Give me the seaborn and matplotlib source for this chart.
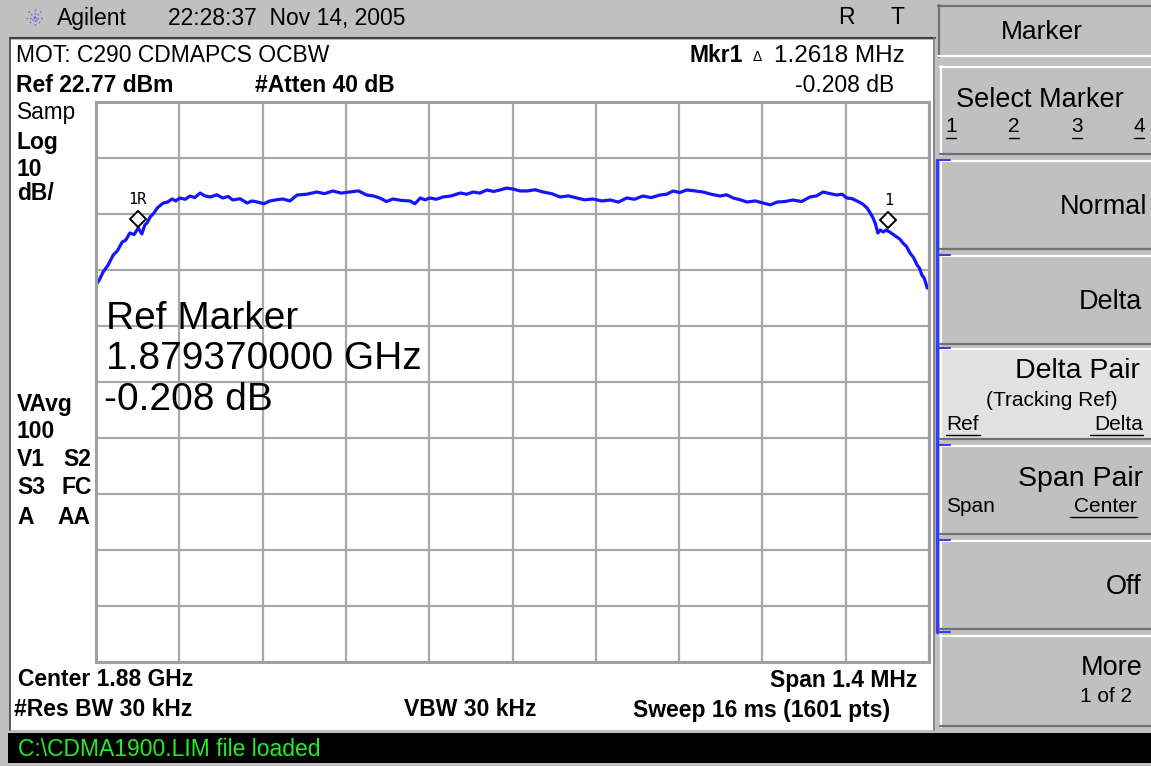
import numpy as np
import pandas as pd
import seaborn as sns
import matplotlib.pyplot as plt
from matplotlib.patches import Rectangle

# trace: offset from center (MHz) and level (dBm)
freq_mhz = [-0.700, -0.694, -0.688, -0.680, -0.671, -0.664, -0.656, -0.650, -0.643, -0.636,
            -0.629, -0.623, -0.618, -0.614, -0.609, -0.603, -0.597, -0.592, -0.587, -0.580,
            -0.572, -0.566, -0.559, -0.550, -0.542, -0.534, -0.525, -0.517, -0.508, -0.497,
            -0.487, -0.478, -0.470, -0.458, -0.446, -0.438, -0.429, -0.418, -0.408, -0.397,
            -0.386, -0.374, -0.362, -0.346, -0.329, -0.316, -0.302, -0.288, -0.273, -0.259,
            -0.245, -0.234, -0.223, -0.212, -0.201, -0.187, -0.172, -0.164, -0.155, -0.147,
            -0.139, -0.128, -0.117, -0.103, -0.088, -0.077, -0.066, -0.055, -0.043, -0.032,
            -0.021, -0.010, 0.001, 0.012, 0.024, 0.038, 0.051, 0.066, 0.080, 0.094,
            0.108, 0.121, 0.135, 0.150, 0.164, 0.178, 0.192, 0.205, 0.219, 0.233,
            0.248, 0.259, 0.270, 0.281, 0.293, 0.306, 0.320, 0.334, 0.349, 0.360,
            0.371, 0.383, 0.394, 0.408, 0.421, 0.433, 0.445, 0.458, 0.471, 0.486,
            0.500, 0.511, 0.522, 0.534, 0.545, 0.554, 0.562, 0.571, 0.579, 0.588,
            0.596, 0.601, 0.606, 0.610, 0.614, 0.618, 0.623, 0.628, 0.634, 0.640,
            0.646, 0.651, 0.656, 0.662, 0.668, 0.674, 0.680, 0.684, 0.688, 0.692,
            0.697]
level_dbm = [-9.91, -8.90, -7.59, -6.40, -4.55, -3.80, -2.23, -1.90, -0.62, -0.90,
             0.27, -0.80, 0.81, 1.20, 2.23, 2.90, 3.84, 4.30, 4.73, 4.90,
             5.45, 5.10, 5.63, 5.40, 5.98, 5.70, 6.52, 6.00, 5.81, 6.20,
             5.63, 5.90, 5.27, 5.50, 4.73, 5.10, 4.91, 4.60, 5.09, 5.30,
             5.45, 5.10, 6.16, 6.30, 6.70, 6.40, 6.88, 6.50, 6.70, 6.90,
             6.16, 6.00, 5.63, 5.00, 5.45, 5.20, 5.09, 4.60, 5.63, 5.30,
             5.63, 5.40, 5.81, 6.00, 6.52, 6.30, 6.70, 6.50, 7.06, 6.80,
             7.06, 7.40, 7.23, 6.90, 6.88, 7.10, 6.70, 6.40, 5.81, 6.00,
             5.63, 5.30, 5.45, 5.10, 5.27, 4.90, 5.63, 5.40, 5.98, 5.70,
             6.16, 6.30, 6.88, 6.60, 7.06, 6.90, 6.70, 6.30, 5.98, 6.20,
             5.63, 5.30, 4.91, 5.10, 4.73, 4.40, 4.91, 5.00, 5.27, 5.00,
             5.81, 6.00, 6.70, 6.40, 6.16, 6.30, 5.63, 5.50, 5.09, 4.60,
             3.84, 3.00, 2.06, 1.00, -0.62, -0.10, -0.44, -0.10, -0.44, -0.90,
             -1.34, -1.70, -2.41, -3.00, -4.20, -5.00, -6.34, -6.90, -8.13, -8.70,
             -10.45]

marker_names = ['1R', '1']
marker_freq = [-0.63, 0.6318]
marker_level = [1.87, 1.66]

ref_level = 22.77
db_per_div = 10
span_mhz = 1.4

GREY = '#c0c0c0'


def put(ax, x, y, s, size=16.5, weight='bold', ha='left', color='black', **kw):
    ax.text(x, y, s, fontsize=size, fontweight=weight, ha=ha, va='center',
            family=['Liberation Sans'], color=color, **kw)


def button(ax, y0, y1, face=GREY):
    ax.add_patch(Rectangle((940, y0), 211, y1 - y0, facecolor=face, edgecolor='none'))
    ax.plot([940, 1151], [y0 + 1, y0 + 1], color='white', lw=1.6)
    ax.plot([941, 941], [y0, y1], color='white', lw=1.6)
    ax.plot([940, 1151], [y1 - 1, y1 - 1], color='#707070', lw=1.6)


def draw_frame(ax):
    ax.set_xlim(0, 1151)
    ax.set_ylim(766, 0)
    ax.axis('off')
    # outer grey background
    ax.add_patch(Rectangle((0, 0), 1151, 766, facecolor=GREY, edgecolor='none'))
    # main white screen
    ax.add_patch(Rectangle((10, 40), 923, 690, facecolor='white', edgecolor='none'))
    ax.plot([10, 935], [38, 38], color='#404040', lw=1.5)
    ax.plot([10, 10], [38, 730], color='#404040', lw=1.2)
    ax.plot([934, 934], [38, 730], color='#808080', lw=1.2)
    # status bar
    ax.add_patch(Rectangle((8, 733), 1143, 30, facecolor='black', edgecolor='none'))

    # header
    for a in np.linspace(0, np.pi, 5)[:-1]:
        dx, dy = 9 * np.cos(a), 9 * np.sin(a)
        ax.plot([35 - dx, 35 + dx], [18 - dy, 18 + dy], color='#5a5aff', lw=1, ls=':')
    put(ax, 57, 18, 'Agilent', size=16.5, weight='normal')
    put(ax, 168, 18, '22:28:37  Nov 14, 2005', size=16.5, weight='normal')
    put(ax, 846, 18, 'R', size=16.5, weight='normal', ha='center')
    put(ax, 897, 18, 'T', size=16.5, weight='normal', ha='center')

    # top info lines
    put(ax, 16, 56, 'MOT: C290 CDMAPCS OCBW', size=16.5, weight='normal')
    put(ax, 690, 56, 'Mkr1', size=16.5)
    put(ax, 757, 57, '\u0394', size=10, weight='normal', ha='center')
    put(ax, 905, 56, '1.2618 MHz', size=17.5, weight='normal', ha='right')
    put(ax, 16, 86, 'Ref 22.77 dBm')
    put(ax, 255, 86, '#Atten 40 dB')
    put(ax, 894, 86, '-0.208 dB', size=16.5, weight='normal', ha='right')

    # left side status column
    put(ax, 17, 113, 'Samp', size=16.3, weight='normal')
    put(ax, 17, 142, 'Log')
    put(ax, 17, 170, '10')
    put(ax, 17, 194, 'dB/')
    put(ax, 17, 405, 'VAvg')
    put(ax, 17, 432, '100')
    put(ax, 17, 460, 'V1')
    put(ax, 63, 460, 'S2')
    put(ax, 17, 488, 'S3')
    put(ax, 62, 488, 'FC')
    put(ax, 17, 517, 'A')
    put(ax, 57, 517, 'AA')

    # bottom lines
    put(ax, 18, 680, 'Center 1.88 GHz')
    put(ax, 917, 680, 'Span 1.4 MHz', ha='right')
    put(ax, 14, 710, '#Res BW 30 kHz')
    put(ax, 470, 710, 'VBW 30 kHz', ha='center')
    put(ax, 890, 710, 'Sweep 16 ms (1601 pts)', ha='right')
    put(ax, 18, 749, 'C:\\CDMA1900.LIM file loaded', size=16.5, weight='normal',
        color='#22ee22')

    # softkey panel
    ax.add_patch(Rectangle((938, 5), 213, 52, facecolor=GREY, edgecolor='none'))
    ax.plot([938, 1151], [6, 6], color='#707070', lw=1.6)
    ax.plot([939, 939], [5, 57], color='#707070', lw=1.6)
    ax.plot([938, 1151], [56, 56], color='white', lw=1.6)
    put(ax, 1042, 32, 'Marker', size=19, weight='normal', ha='center')

    button(ax, 66, 155)
    put(ax, 1040, 100, 'Select Marker', size=19.5, weight='normal', ha='center')
    for x, s in zip([951, 1014, 1077, 1139], ['1', '2', '3', '4']):
        put(ax, x, 127, s, size=15, weight='normal', ha='center')
        ax.plot([x - 5, x + 5], [138, 138], color='black', lw=1)

    button(ax, 160, 250)
    put(ax, 1147, 207, 'Normal', size=19.5, weight='normal', ha='right')
    button(ax, 255, 345)
    put(ax, 1142, 302, 'Delta', size=19.5, weight='normal', ha='right')

    button(ax, 348, 440, face='#e2e2e2')
    put(ax, 1140, 371, 'Delta Pair', size=20.5, weight='normal', ha='right')
    put(ax, 1052, 400, '(Tracking Ref)', size=15, weight='normal', ha='center')
    put(ax, 946, 425, 'Ref', size=15, weight='normal')
    ax.plot([946, 980], [435, 435], color='black', lw=1)
    put(ax, 1143, 425, 'Delta', size=15, weight='normal', ha='right')
    ax.plot([1090, 1143], [435, 435], color='black', lw=1)

    button(ax, 445, 535)
    put(ax, 1143, 479, 'Span Pair', size=20.5, weight='normal', ha='right')
    put(ax, 946, 507, 'Span', size=15, weight='normal')
    put(ax, 1137, 507, 'Center', size=15, weight='normal', ha='right')
    ax.plot([1070, 1137], [517, 517], color='black', lw=1)

    button(ax, 540, 630)
    put(ax, 1142, 587, 'Off', size=19.5, weight='normal', ha='right')
    button(ax, 635, 727)
    put(ax, 1143, 668, 'More', size=19.5, weight='normal', ha='right')
    put(ax, 1132, 696, '1 of 2', size=15, weight='normal', ha='right')

    # blue active-menu bar
    ax.plot([937, 937], [160, 632], color='#3a3aff', lw=2.5)
    for y in [160, 255, 348, 445, 540, 632]:
        ax.plot([937, 950], [y, y], color='#3a3aff', lw=1.5)


def plot_trace(ax):
    data = pd.DataFrame({'freq': freq_mhz, 'level': level_dbm})
    sns.lineplot(x='freq', y='level', data=data, ax=ax, color='#1414ff', lw=2.3)

    ax.set_xlim(-span_mhz / 2, span_mhz / 2)
    ax.set_ylim(ref_level - 10 * db_per_div, ref_level)
    ax.set_xticks(np.linspace(-span_mhz / 2, span_mhz / 2, 11))
    ax.set_yticks(ref_level - db_per_div * np.arange(11))
    ax.grid(True, color='#a8a8a8', lw=1.6)
    ax.tick_params(length=0, labelbottom=False, labelleft=False)
    ax.set_xlabel('')
    ax.set_ylabel('')
    for sp in ax.spines.values():
        sp.set_color('#a0a0a0')
        sp.set_linewidth(2.2)

    for name, f, lv in zip(marker_names, marker_freq, marker_level):
        ax.plot(f, lv, marker='D', ms=8.5, mfc='white', mec='black', mew=1.4, zorder=5)
        ax.annotate(name, (f, lv), xytext=(0, 14), textcoords='offset points',
                    ha='center', va='center', fontsize=11, family='DejaVu Sans Mono',
                    color='black')

    big = dict(transform=ax.transAxes, fontsize=28, va='baseline', color='black')
    ax.text(0.012, 0.5946, 'Ref Marker', **big)
    ax.text(0.012, 0.5232, '1.879370000 GHz', **big)
    ax.text(0.010, 0.450, '-0.208 dB', **big)


def main():
    sns.set_style('white')
    plt.rcParams['font.family'] = ['Liberation Sans', 'DejaVu Sans']

    fig = plt.figure(figsize=(11.51, 7.66), dpi=100)
    ax_bg = fig.add_axes([0, 0, 1, 1])
    draw_frame(ax_bg)

    ax = fig.add_axes([96 / 1151, 1 - 662 / 766, 833 / 1151, 560 / 766])
    ax.set_facecolor('white')
    plot_trace(ax)

    fig.savefig('out.png', dpi=100)


if __name__ == '__main__':
    main()
